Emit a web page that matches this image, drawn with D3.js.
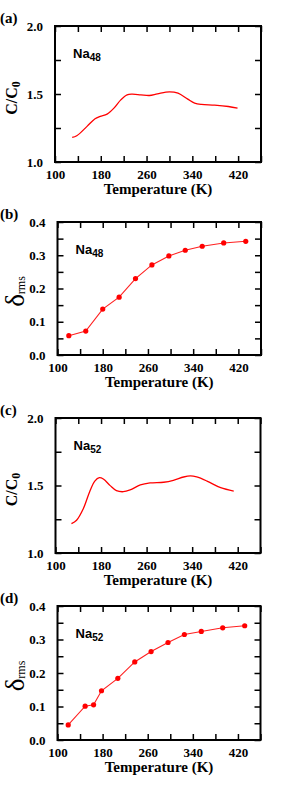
<!DOCTYPE html>
<html><head><meta charset="utf-8">
<script src="https://cdn.jsdelivr.net/npm/d3@7"></script>
<style>
html,body{margin:0;padding:0;background:#fff;}
svg{display:block;}
.tick text{font-family:"Liberation Serif","Times New Roman",serif;font-weight:bold;font-size:13px;fill:#000;}
</style></head>
<body>
<script>
// ---- data ----
const tempA = [130,138,156,170,179,191,203,215,226,235,250,265,279,300,315,332,344,356,379,403,419];
const capA  = [1.181,1.193,1.262,1.318,1.335,1.352,1.396,1.457,1.494,1.499,1.494,1.489,1.501,1.516,1.506,1.462,1.433,1.423,1.418,1.408,1.396];

const tempB  = [120,150,180,209,238,267,297,326,356,394,433];
const deltaB = [0.058,0.072,0.138,0.174,0.230,0.271,0.298,0.315,0.327,0.337,0.342];

const tempC = [128,137,149,160,169,177,184,196,207,219,231,249,266,290,307,325,337,348,366,390,413];
const capC  = [1.218,1.243,1.330,1.454,1.533,1.558,1.548,1.499,1.462,1.454,1.467,1.504,1.519,1.524,1.538,1.563,1.571,1.563,1.533,1.484,1.459];

const tempD  = [119,149,164,178,207,237,266,296,325,355,393,432];
const deltaD = [0.045,0.101,0.105,0.147,0.184,0.233,0.264,0.291,0.315,0.324,0.335,0.341];

const xTicks = [100,140,180,220,260,300,340,380,420,460];
const xLabels = [100,180,260,340,420];
const capTicks = [1.0,1.25,1.5,1.75,2.0];
const capLabels = [1.0,1.5,2.0];
const deltaTicks = [0,0.05,0.1,0.15,0.2,0.25,0.3,0.35,0.4];
const deltaLabels = [0,0.1,0.2,0.3,0.4];
const panelLetters = ["(a)","(b)","(c)","(d)"];
const clusterNames = ["48","48","52","52"];

const W = 283, H = 791;
const svg = d3.select("body").append("svg").attr("width", W).attr("height", H);

const panels = [
  {letter:0, box:{l:55,r:261,t:26,b:162}, xs:tempA, ys:capA, yDom:[1,2], yT:capTicks, yL:capLabels, type:"cap"},
  {letter:1, box:{l:57.5,r:261,t:222,b:355}, xs:tempB, ys:deltaB, yDom:[0,0.4], yT:deltaTicks, yL:deltaLabels, type:"delta"},
  {letter:2, box:{l:55.5,r:260.5,t:418,b:553}, xs:tempC, ys:capC, yDom:[1,2], yT:capTicks, yL:capLabels, type:"cap"},
  {letter:3, box:{l:57.5,r:260.5,t:606,b:740}, xs:tempD, ys:deltaD, yDom:[0,0.4], yT:deltaTicks, yL:deltaLabels, type:"delta"}
];

const serif = '"Liberation Serif","Times New Roman",serif';
const sans = '"Liberation Sans",Arial,sans-serif';

panels.forEach(p => {
  const {l,r,t,b} = p.box;
  const x = d3.scaleLinear().domain([100,460]).range([l,r]);
  const y = d3.scaleLinear().domain(p.yDom).range([b,t]);
  const g = svg.append("g");
  const fmtX = d => xLabels.includes(d) ? d : "";
  const fmtY = d => p.yL.some(v => Math.abs(v-d)<1e-9) ? d3.format(".1f")(d) : "";

  const axB = g.append("g").attr("transform",`translate(0,${b})`)
    .call(d3.axisBottom(x).tickValues(xTicks).tickSize(-6).tickPadding(10).tickFormat(fmtX));
  const axT = g.append("g").attr("transform",`translate(0,${t})`)
    .call(d3.axisTop(x).tickValues(xTicks).tickSize(-6).tickFormat(""));
  const axL = g.append("g").attr("transform",`translate(${l},0)`)
    .call(d3.axisLeft(y).tickValues(p.yT).tickSize(-6).tickPadding(12).tickFormat(fmtY));
  const axR = g.append("g").attr("transform",`translate(${r},0)`)
    .call(d3.axisRight(y).tickValues(p.yT).tickSize(-6).tickFormat(""));
  [axB,axT,axL,axR].forEach(a => {
    a.select(".domain").remove();
    a.selectAll(".tick line").attr("stroke","#000").attr("stroke-width",1.5);
  });
  axB.selectAll(".tick text").attr("dy","0.5em");

  g.append("rect").attr("x",l).attr("y",t).attr("width",r-l).attr("height",b-t)
    .attr("fill","none").attr("stroke","#000").attr("stroke-width",2);

  const data = p.xs.map((v,i)=>[v,p.ys[i]]);
  if (p.type === "cap") {
    g.append("path").datum(data)
      .attr("d", d3.line().x(d=>x(d[0])).y(d=>y(d[1])).curve(d3.curveCatmullRom.alpha(0.5)))
      .attr("fill","none").attr("stroke","#ff0000").attr("stroke-width",1.3);
  } else {
    g.append("path").datum(data)
      .attr("d", d3.line().x(d=>x(d[0])).y(d=>y(d[1])))
      .attr("fill","none").attr("stroke","#ff2020").attr("stroke-width",1.1);
    g.selectAll("circle").data(data).join("circle")
      .attr("cx",d=>x(d[0])).attr("cy",d=>y(d[1])).attr("r",2.6).attr("fill","#ff0000");
  }

  // panel letter
  g.append("text").attr("x",0).attr("y",t-3).text(panelLetters[p.letter])
    .attr("font-family",serif).attr("font-weight","bold").attr("font-size",15);

  // cluster label
  const nt = g.append("text").attr("x",l+18).attr("y",t+32)
    .attr("font-family",sans).attr("font-weight","bold").attr("font-size",13);
  nt.append("tspan").text("Na");
  nt.append("tspan").attr("dy",3).attr("font-size",10).text(clusterNames[p.letter]);

  // x title
  g.append("text").attr("x",(l+r)/2).attr("y",b+32).attr("text-anchor","middle")
    .attr("font-family",serif).attr("font-weight","bold").attr("font-size",15)
    .text("Temperature (K)");

  // y title
  const cy = (t+b)/2;
  if (p.type === "cap") {
    const yt = g.append("text").attr("transform",`translate(17,${cy+4}) rotate(-90)`)
      .attr("text-anchor","middle").attr("font-family",serif).attr("font-weight","bold").attr("font-size",16);
    yt.append("tspan").text("C/C");
    yt.append("tspan").attr("dy",3).attr("font-size",12).text("0");
  } else {
    const yt = g.append("text").attr("transform",`translate(24,${cy+3}) rotate(-90)`)
      .attr("text-anchor","middle").attr("font-family",serif).attr("font-size",27);
    yt.append("tspan").text("δ");
    yt.append("tspan").attr("dy",1).attr("font-size",12).text("rms");
  }
});
</script>
</body></html>
